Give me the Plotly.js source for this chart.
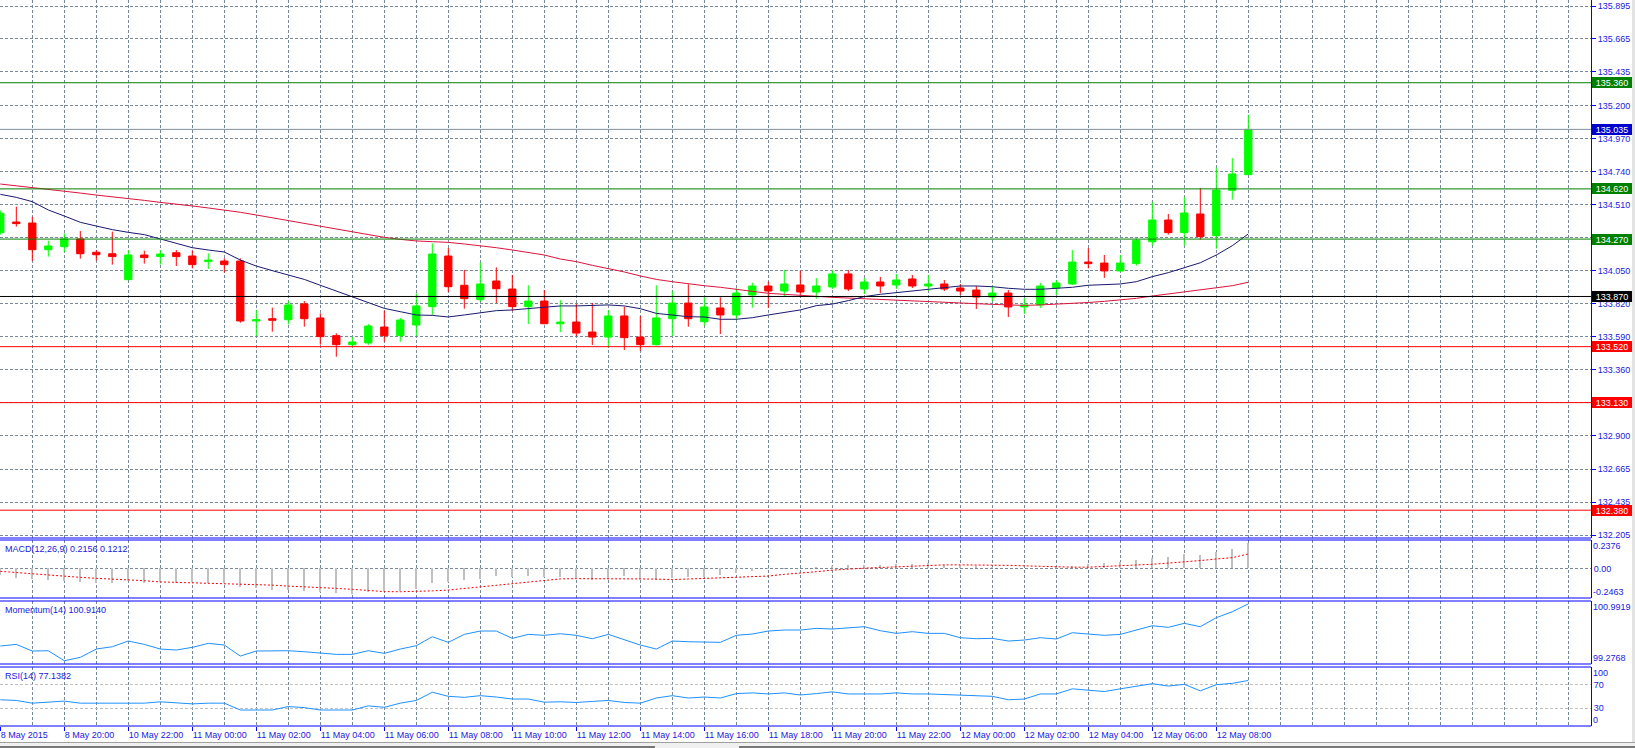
<!DOCTYPE html>
<html><head><meta charset="utf-8">
<script src="https://cdn.plot.ly/plotly-3.0.1.min.js"></script>
<style>html,body{margin:0;padding:0;background:#fff;overflow:hidden}#chart{width:1635px;height:748px}</style>
</head><body><div id="chart"></div><script>
// ---------------- data (USDJPY-like, M30) ----------------
const openP = [134.315,134.389,134.382,134.196,134.217,134.271,134.178,134.168,133.987,134.159,
134.148,134.175,134.152,134.113,134.117,134.117,133.699,133.715,133.708,133.818,
133.720,133.597,133.534,133.546,133.657,133.597,133.671,133.799,134.152,133.948,
133.848,133.978,133.922,133.799,133.838,133.680,133.692,133.622,133.587,133.734,
133.587,133.534,133.715,133.824,133.694,133.790,133.741,133.880,133.943,133.908,
133.950,133.901,133.936,134.027,133.922,133.971,133.950,133.992,133.943,133.957,
133.929,133.915,133.866,133.894,133.797,133.811,133.929,133.957,134.110,134.103,
134.048,134.099,134.252,134.403,134.315,134.445,134.294,134.610,134.719];
const highP = [134.470,134.496,134.426,134.259,134.310,134.326,134.194,134.322,134.192,134.189,
134.194,134.194,134.189,134.171,134.136,134.136,133.776,133.792,133.838,133.838,
133.752,133.613,133.590,133.678,133.771,133.720,133.892,134.240,134.208,134.055,
134.106,134.073,134.020,133.948,133.915,133.845,133.818,133.824,133.776,133.799,
133.734,133.948,133.908,133.955,133.873,133.864,133.927,133.966,133.973,134.055,
134.050,133.999,134.055,134.055,133.999,134.006,134.027,134.020,134.020,133.985,
133.957,133.943,133.943,133.915,133.859,133.964,133.985,134.194,134.208,134.159,
134.159,134.275,134.529,134.445,134.563,134.626,134.770,134.835,135.137];
const lowP = [134.300,134.357,134.117,134.147,134.180,134.134,134.120,134.092,133.985,134.099,
134.092,134.082,134.066,134.062,134.036,133.687,133.594,133.625,133.676,133.659,
133.534,133.450,133.520,133.532,133.555,133.555,133.594,133.741,133.901,133.785,
133.834,133.824,133.769,133.678,133.680,133.622,133.594,133.532,133.515,133.497,
133.492,133.529,133.594,133.659,133.666,133.608,133.706,133.792,133.792,133.869,
133.880,133.855,133.922,133.908,133.887,133.894,133.922,133.929,133.908,133.908,
133.880,133.783,133.838,133.727,133.748,133.790,133.880,133.950,134.066,133.999,
134.041,134.085,134.224,134.301,134.224,134.266,134.203,134.545,134.719];
const closeP = [134.450,134.378,134.196,134.222,134.271,134.168,134.161,134.148,134.159,134.141,
134.166,134.148,134.092,134.124,134.092,133.699,133.708,133.704,133.811,133.715,
133.590,133.534,133.553,133.664,133.597,133.706,133.804,134.166,133.938,133.855,
133.957,133.924,133.799,133.838,133.680,133.692,133.615,133.587,133.734,133.583,
133.534,133.720,133.824,133.715,133.797,133.741,133.894,133.943,133.908,133.957,
133.901,133.943,134.027,133.922,133.971,133.943,133.985,133.943,133.957,133.922,
133.908,133.866,133.894,133.797,133.811,133.943,133.964,134.110,134.099,134.048,
134.103,134.261,134.403,134.315,134.452,134.287,134.612,134.724,135.035];
const maFast = [134.582,134.561,134.531,134.473,134.431,134.387,134.361,134.336,134.317,134.301,
134.271,134.240,134.210,134.194,134.180,134.124,134.082,134.050,134.020,133.989,
133.948,133.908,133.864,133.827,133.787,133.764,133.741,133.738,133.727,133.741,
133.757,133.771,133.776,133.785,133.799,133.804,133.804,133.808,133.811,133.804,
133.785,133.752,133.741,133.729,133.727,133.711,133.711,133.722,133.741,133.757,
133.776,133.806,133.817,133.841,133.869,133.885,133.897,133.908,133.920,133.934,
133.943,133.943,133.938,133.927,133.920,133.920,133.927,133.934,133.948,133.953,
133.957,133.973,134.008,134.036,134.071,134.105,134.159,134.224,134.306];
const maSlow = [134.654,134.642,134.631,134.617,134.605,134.591,134.577,134.566,134.554,134.540,
134.526,134.515,134.501,134.487,134.473,134.457,134.438,134.419,134.398,134.378,
134.357,134.338,134.322,134.303,134.282,134.268,134.257,134.252,134.247,134.236,
134.224,134.210,134.194,134.178,134.159,134.131,134.113,134.087,134.066,134.041,
134.013,133.989,133.973,133.957,133.945,133.934,133.920,133.906,133.892,133.885,
133.876,133.871,133.864,133.859,133.850,133.845,133.843,133.838,133.831,133.827,
133.822,133.817,133.815,133.811,133.808,133.811,133.815,133.822,133.828,133.836,
133.845,133.857,133.873,133.888,133.901,133.917,133.930,133.945,133.969];
const macdMain = [-0.057,-0.076,-0.090,-0.098,-0.106,-0.112,-0.120,-0.120,-0.106,-0.120,
-0.112,-0.120,-0.112,-0.120,-0.120,-0.152,-0.166,-0.180,-0.180,-0.188,
-0.193,-0.201,-0.212,-0.193,-0.188,-0.188,-0.174,-0.125,-0.112,-0.098,
-0.084,-0.065,-0.071,-0.065,-0.071,-0.071,-0.079,-0.092,-0.084,-0.063,
-0.087,-0.095,-0.079,-0.073,-0.068,-0.052,-0.035,-0.019,-0.005,-0.003,
0.003,0.016,0.022,0.033,0.030,0.033,0.041,0.041,0.046,0.033,
0.027,0.022,0.016,0.008,0.001,0.008,0.014,0.024,0.035,0.044,
0.054,0.068,0.090,0.098,0.117,0.114,0.139,0.163,0.2156];
const macdSignal = [-0.024,-0.035,-0.046,-0.056,-0.065,-0.074,-0.082,-0.087,-0.092,-0.102,
-0.112,-0.116,-0.120,-0.121,-0.122,-0.126,-0.131,-0.139,-0.147,-0.152,
-0.158,-0.166,-0.174,-0.184,-0.193,-0.194,-0.193,-0.187,-0.180,-0.166,
-0.152,-0.138,-0.125,-0.111,-0.098,-0.087,-0.085,-0.084,-0.084,-0.085,
-0.087,-0.089,-0.092,-0.088,-0.084,-0.080,-0.073,-0.068,-0.063,-0.049,
-0.035,-0.027,-0.014,-0.003,0.003,0.008,0.014,0.022,0.030,0.030,
0.030,0.030,0.030,0.026,0.022,0.017,0.011,0.011,0.011,0.016,
0.022,0.028,0.035,0.045,0.054,0.066,0.079,0.090,0.1212];
const momentum = [99.766,99.811,99.630,99.638,99.365,99.458,99.684,99.747,99.902,99.811,
99.684,99.657,99.730,99.839,99.793,99.493,99.630,99.630,99.638,99.611,
99.567,99.539,99.539,99.638,99.567,99.684,99.775,100.019,99.866,100.083,
100.174,100.174,99.975,100.083,100.057,100.101,100.057,99.965,100.083,99.929,
99.793,99.684,99.902,99.883,99.866,99.866,100.057,100.093,100.174,100.202,
100.202,100.247,100.229,100.265,100.292,100.183,100.111,100.156,100.111,100.111,
99.992,99.965,99.975,99.902,99.929,99.992,99.957,100.128,100.083,100.057,
100.083,100.202,100.319,100.275,100.384,100.292,100.537,100.700,100.914];
const rsi = [44.5,43.3,38.7,41.0,42.2,38.7,38.7,38.7,38.7,38.7,
41.0,38.7,37.5,38.7,38.7,27.1,27.1,27.1,32.9,31.2,
27.1,27.1,27.1,34.1,31.7,38.7,43.3,57.2,50.3,48.6,
51.4,49.1,45.7,45.7,40.4,41.0,39.9,41.6,43.3,39.9,
38.7,47.4,51.4,47.4,49.1,47.4,54.9,56.1,54.3,56.1,
52.6,54.9,57.8,54.3,54.3,54.3,56.1,54.3,54.3,53.2,
51.4,50.3,50.3,44.5,45.7,54.3,54.3,63.0,60.7,58.4,
63.0,67.7,71.7,67.7,70.6,59.6,70.0,72.3,77.1382];
const timeTickBars = [0,4,8,12,16,20,24,28,32,36,40,44,48,52,56,60,64,68,72,76];
const timeTickText = ['8 May 2015','8 May 20:00','10 May 22:00','11 May 00:00','11 May 02:00','11 May 04:00',
'11 May 06:00','11 May 08:00','11 May 10:00','11 May 12:00','11 May 14:00','11 May 16:00','11 May 18:00',
'11 May 20:00','11 May 22:00','12 May 00:00','12 May 02:00','12 May 04:00','12 May 06:00','12 May 08:00'];
const priceTicks = [135.895,135.665,135.435,135.200,134.970,134.740,134.510,134.280,134.050,
133.820,133.590,133.360,133.130,132.900,132.665,132.435,132.205];
const greenLevels = [135.360,134.620,134.270];
const redLevels = [133.520,133.130,132.380];
const blackLevels = [133.870];
const bidPrice = closeP[closeP.length-1];
const macdRange = [-0.2463,0.2376];
const momRange = [99.2768,100.9919];
const rsiRange = [0,100];
const rsiLevels = [30,70];

// ---------------- layout helpers ----------------
const W = 1635, H = 748, mR = 44, mB = 22;
const plotW = W - mR, plotH = H - mB;
const py = y => (plotH - y) / plotH;     // pixel row -> paper
const px = x => x / plotW;               // pixel col -> paper
const BL = '#0000ff', TXT = '#1a1ae0', GRID = '#778899';
const FONT = 'Liberation Sans, Arial, sans-serif';
const f9 = {family: FONT, size: 9, color: TXT};
const bars = closeP.map((_, i) => i);

const traces = [
  {type:'candlestick', x:bars, open:openP, high:highP, low:lowP, close:closeP,
   xaxis:'x', yaxis:'y', hoverinfo:'skip', whiskerwidth:0,
   increasing:{line:{color:'#00ff00', width:1}, fillcolor:'#00ff00'},
   decreasing:{line:{color:'#ff0000', width:1}, fillcolor:'#ff0000'}},
  {type:'scatter', mode:'lines', x:bars, y:maSlow, xaxis:'x', yaxis:'y', hoverinfo:'skip',
   line:{color:'#dc143c', width:1, shape:'linear'}},
  {type:'scatter', mode:'lines', x:bars, y:maFast, xaxis:'x', yaxis:'y', hoverinfo:'skip',
   line:{color:'#191970', width:1}},
  {type:'bar', x:bars, y:macdMain, xaxis:'x', yaxis:'y2', hoverinfo:'skip',
   width:0.13, marker:{color:'#c0c0c0', line:{width:0}}},
  {type:'scatter', mode:'lines', x:bars, y:macdSignal, xaxis:'x', yaxis:'y2', hoverinfo:'skip',
   line:{color:'#ff0000', width:1, dash:'2px,2px'}},
  {type:'scatter', mode:'lines', x:bars, y:momentum, xaxis:'x', yaxis:'y3', hoverinfo:'skip',
   line:{color:'#1e90ff', width:1}},
  {type:'scatter', mode:'lines', x:bars, y:rsi, xaxis:'x', yaxis:'y4', hoverinfo:'skip',
   line:{color:'#1e90ff', width:1}}
];

const shapes = [];
const annotations = [];
function level(price, color, labelBg) {
  shapes.push({type:'line', xref:'paper', x0:0, x1:1, yref:'y', y0:price, y1:price,
    line:{color:color, width:1}, layer:'above'});
  annotations.push({xref:'paper', x:1, xanchor:'left', xshift:1, yref:'y', y:price, yanchor:'middle',
    text:price.toFixed(3), showarrow:false, bgcolor:labelBg, borderpad:0, borderwidth:0,
    width:40, height:11, font:{family:FONT, size:9, color:'#ffffff'}});
}
greenLevels.forEach(p => level(p, '#008000', '#008000'));
redLevels.forEach(p => level(p, '#ff0000', '#ff0000'));
blackLevels.forEach(p => level(p, '#000000', '#000000'));
level(bidPrice, '#8090a0', '#0000cd');

// panel frames (pixel rows)
const frameRows = [538, 540, 598, 601, 664, 667, 726];
frameRows.forEach(r => shapes.push({type:'line', xref:'paper', x0:0, x1:1, yref:'paper',
  y0:py(r), y1:py(r), line:{color:BL, width:1}}));
// right edge & tab strip
shapes.push({type:'rect', xref:'paper', yref:'paper', x0:px(1632), x1:px(1636), y0:py(0), y1:py(749),
  fillcolor:'#e3e3e3', line:{width:0}});
shapes.push({type:'rect', xref:'paper', yref:'paper', x0:0, x1:px(1636), y0:py(742), y1:py(749),
  fillcolor:'#f0f0f0', line:{width:0}});
shapes.push({type:'line', xref:'paper', yref:'paper', x0:0, x1:px(1636), y0:py(742.5), y1:py(742.5),
  line:{color:'#a0a0a0', width:1}});
shapes.push({type:'line', xref:'paper', yref:'paper', x0:0, x1:px(655), y0:py(747), y1:py(747),
  line:{color:'#000000', width:1}});
shapes.push({type:'line', xref:'paper', yref:'paper', x0:px(739), x1:px(1636), y0:py(747), y1:py(747),
  line:{color:'#000000', width:1}});

// indicator captions
const caps = [
  ['MACD(12,26,9) ' + macdMain[macdMain.length-1].toFixed(4) + ' ' + macdSignal[macdSignal.length-1].toFixed(4), 540],
  ['Momentum(14) ' + momentum[momentum.length-1].toFixed(4), 601],
  ['RSI(14) ' + rsi[rsi.length-1].toFixed(4), 667]
];
caps.forEach(c => annotations.push({xref:'paper', x:0, xanchor:'left', xshift:3, yref:'paper', y:py(c[1]),
  yanchor:'top', yshift:-2, text:c[0], showarrow:false, font:f9}));
// indicator scale labels (top/bottom)
[['y2', macdRange[1], 'top', '0.2376'], ['y2', macdRange[0], 'bottom', '-0.2463'],
 ['y3', momRange[1], 'top', momRange[1].toFixed(4)], ['y3', momRange[0], 'bottom', momRange[0].toFixed(4)],
 ['y4', rsiRange[1], 'top', String(rsiRange[1])], ['y4', rsiRange[0], 'bottom', String(rsiRange[0])]]
 .forEach(a => annotations.push({xref:'paper', x:1, xanchor:'left', xshift:1, yref:a[0], y:a[1],
   yanchor:a[2], text:a[3], showarrow:false, font:f9, borderpad:0}));

const yMainTop = 135.895 + 6/143.44, yMainBot = 135.895 - 532/143.44;
const gridDash = '3px,2px';
const layout = {
  width:W, height:H, margin:{l:0, r:mR, t:0, b:mB, pad:0},
  paper_bgcolor:'#ffffff', plot_bgcolor:'#ffffff', showlegend:false, boxgap:0.35,
  bargap:0, dragmode:false,
  xaxis:{range:[-0.3/16, (plotW-0.3)/16], anchor:'y4', tickmode:'array', tickvals:timeTickBars, ticktext:timeTickText,
    tickangle:0, ticklabelposition:'outside right', tickfont:f9, ticks:'outside', ticklen:4, tickcolor:BL,
    showline:false, showgrid:true, gridcolor:GRID, griddash:gridDash, gridwidth:1, zeroline:false,
    rangeslider:{visible:false}, fixedrange:true,
    minor:{tick0:0, dtick:2, showgrid:true, gridcolor:GRID, griddash:gridDash, gridwidth:1, ticks:''}},
  yaxis:{domain:[py(538), 1], range:[yMainBot, yMainTop], side:'right', anchor:'x',
    tickmode:'array', tickvals:priceTicks, ticktext:priceTicks.map(v => v.toFixed(3)),
    tickfont:f9, ticks:'outside', ticklen:4, tickcolor:BL, showline:true, linecolor:BL, linewidth:1,
    showgrid:true, gridcolor:GRID, griddash:gridDash, zeroline:false, fixedrange:true},
  yaxis2:{domain:[py(598), py(540)], range:macdRange, side:'right', anchor:'x',
    tickmode:'array', tickvals:[0], ticktext:['0.00'], tickfont:f9, ticks:'', showline:true, linecolor:BL,
    showgrid:true, gridcolor:GRID, griddash:gridDash, zeroline:false, fixedrange:true},
  yaxis3:{domain:[py(664), py(601)], range:momRange, side:'right', anchor:'x',
    showticklabels:false, ticks:'', showline:true, linecolor:BL, showgrid:false, zeroline:false, fixedrange:true},
  yaxis4:{domain:[0, py(667)], range:rsiRange, side:'right', anchor:'x',
    tickmode:'array', tickvals:rsiLevels, ticktext:rsiLevels.map(String), tickfont:f9, ticks:'',
    showline:true, linecolor:BL, showgrid:true, gridcolor:'#c0c0c0', griddash:gridDash, zeroline:false, fixedrange:true},
  shapes:shapes, annotations:annotations
};
Plotly.newPlot('chart', traces, layout, {staticPlot:true, displayModeBar:false});
</script></body></html>
